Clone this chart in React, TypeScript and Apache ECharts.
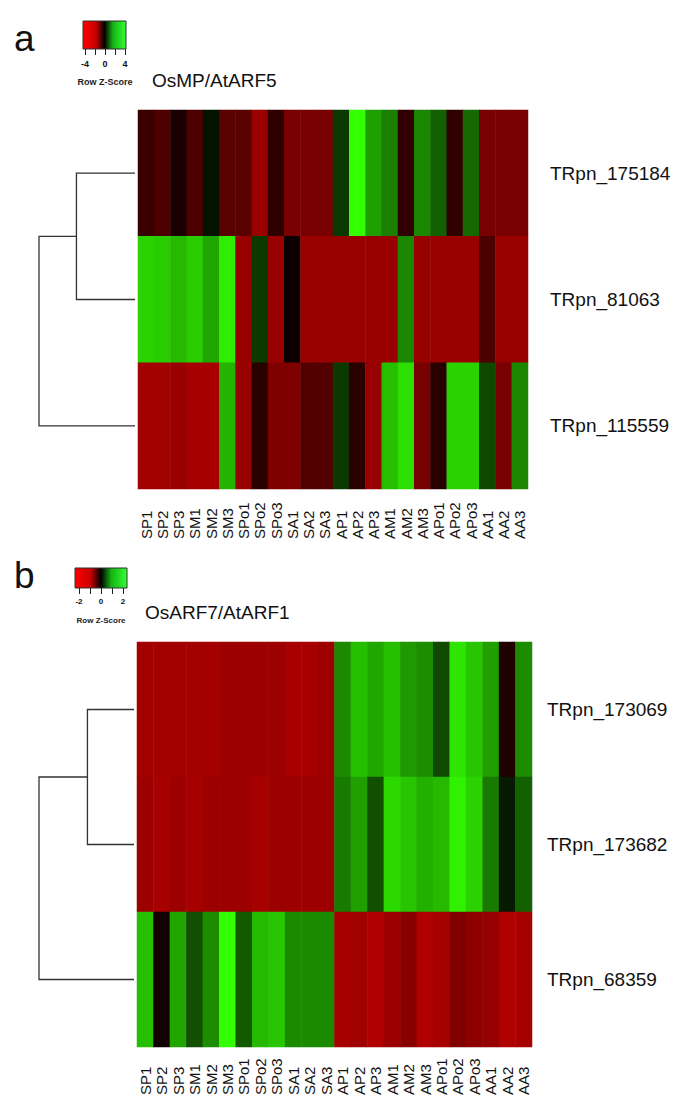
import React, { useEffect, useRef } from "react";
import * as echarts from "echarts";

// ---------- data ----------
const columns = [
  "SP1", "SP2", "SP3", "SM1", "SM2", "SM3", "SPo1", "SPo2", "SPo3", "SA1", "SA2", "SA3",
  "AP1", "AP2", "AP3", "AM1", "AM2", "AM3", "APo1", "APo2", "APo3", "AA1", "AA2", "AA3",
];

// Panel a (OsMP/AtARF5) – row z-scores
const genesA = ["TRpn_175184", "TRpn_81063", "TRpn_115559"];
const zA_175184 = [-0.9, -1.2, -0.4, -1.2, 0.3, -1.4, -1.4, -2.4, -0.75, -1.9, -1.9, -1.9, 0.9, 4.0, 2.5, 2.0, -0.75, 2.1, 1.5, -0.75, 1.65, -1.9, -1.9, -1.9];
const zA_81063 = [3.3, 3.2, 2.9, 3.2, 2.6, 3.7, -2.4, 0.9, -2.4, -0.15, -2.4, -2.4, -2.4, -2.4, -2.4, -2.4, 2.1, -2.4, -2.4, -2.4, -2.4, -1.2, -2.4, -2.4];
const zA_115559 = [-2.55, -2.55, -2.4, -2.6, -2.6, 2.8, -2.4, -0.65, -2.0, -2.0, -1.3, -1.3, 0.9, -0.65, -2.4, 3.0, 3.5, -1.9, -0.65, 3.3, 3.3, 1.15, -1.9, 2.1];

// Panel b (OsARF7/AtARF1) – row z-scores
const genesB = ["TRpn_173069", "TRpn_173682", "TRpn_68359"];
const zB_173069 = [-1.29, -1.29, -1.29, -1.29, -1.29, -1.22, -1.22, -1.22, -1.22, -1.32, -1.32, -1.24, 1.08, 1.5, 1.3, 1.5, 1.2, 1.1, 0.58, 1.8, 1.55, 1.25, -0.25, 1.1];
const zB_173682 = [-1.22, -1.3, -1.22, -1.3, -1.22, -1.22, -1.22, -1.3, -1.22, -1.22, -1.22, -1.22, 0.96, 1.25, 0.63, 1.7, 1.55, 1.37, 1.45, 1.9, 1.65, 0.96, 0.2, 0.75];
const zB_68359 = [1.5, -0.15, 1.3, 0.63, 1.1, 2.0, 0.7, 1.45, 1.55, 1.08, 1.08, 1.08, -1.3, -1.25, -1.38, -1.22, -1.07, -1.38, -1.3, -1.0, -1.1, -1.17, -1.38, -1.3];

// dendrogram merge heights: [merge(row0,row1), merge(cluster,row2)]
const dendroA = [0.61, 1.0];
const dendroB = [0.49, 1.0];

// colour keys
const keyRangeA = [-4, 4];
const keyLabelsA = [-4, 0, 4];
const keyRangeB = [-2, 2];
const keyLabelsB = [-2, 0, 2];

const FONT = "'Liberation Sans', Arial, Helvetica, sans-serif";
const COLORS = ["#ff0000", "#000000", "#33ff00"];

function heat(rows: number[][]) {
  const out: number[][] = [];
  rows.forEach((r, y) => r.forEach((v, x) => out.push([x, y, v])));
  return out;
}

function dendro(h: number[]) {
  return [
    { coords: [[0, 0], [h[0], 0], [h[0], 1], [0, 1]] },
    { coords: [[h[0], 0.5], [h[1], 0.5], [h[1], 2], [0, 2]] },
  ];
}

function keyGradient() {
  return new echarts.graphic.LinearGradient(0, 0, 1, 0, [
    { offset: 0, color: "#ff0000" },
    { offset: 0.3, color: "#c80000" },
    { offset: 0.5, color: "#000000" },
    { offset: 0.7, color: "#14b414" },
    { offset: 1, color: "#33ff33" },
  ]);
}

export default function App() {
  const ref = useRef<HTMLDivElement>(null);
  useEffect(() => {
    if (!ref.current) return;
    const chart = echarts.init(ref.current, undefined, { renderer: "svg" });
    const heatX = (grid: number, margin: number) => ({
      type: "category",
      gridIndex: grid,
      data: columns,
      axisLine: { show: false },
      axisTick: { show: false },
      splitLine: { show: false },
      axisLabel: {
        interval: 0,
        rotate: 90,
        align: "left",
        verticalAlign: "middle",
        margin,
        fontSize: 15,
        color: "#111",
        fontFamily: FONT,
      },
    });
    const heatY = (grid: number, data: string[], margin: number) => ({
      type: "category",
      gridIndex: grid,
      data,
      inverse: true,
      position: "right",
      axisLine: { show: false },
      axisTick: { show: false },
      splitLine: { show: false },
      axisLabel: { fontSize: 19, margin, color: "#111", fontFamily: FONT },
    });
    const dX = (grid: number) => ({ type: "value", gridIndex: grid, min: 0, max: 1, inverse: true, show: false });
    const dY = (grid: number) => ({ type: "value", gridIndex: grid, min: -0.5, max: 2.5, inverse: true, show: false });
    const keyX = (grid: number, range: number[], interval: number, labels: number[], fs: number, margin: number) => ({
      type: "value",
      gridIndex: grid,
      min: range[0],
      max: range[1],
      interval,
      axisLine: { show: false },
      splitLine: { show: false },
      axisTick: { show: true, length: 6, lineStyle: { color: "#222", width: 1 } },
      axisLabel: {
        fontSize: fs,
        margin,
        color: "#111",
        fontWeight: "bold",
        fontFamily: FONT,
        showMinLabel: true,
        showMaxLabel: true,
        formatter: (v: number) => (labels.indexOf(v) >= 0 ? String(v) : ""),
      },
    });
    const option: any = {
      animation: false,
      backgroundColor: "#ffffff",
      textStyle: { fontFamily: FONT },
      grid: [
        { left: 138, top: 110, width: 390, height: 379 },
        { left: 39, top: 110, width: 96, height: 379 },
        { left: 137, top: 642, width: 395, height: 405 },
        { left: 39, top: 642, width: 95, height: 405 },
        { left: 85, top: 21, width: 40, height: 28 },
        { left: 79, top: 568, width: 44, height: 20 },
      ],
      xAxis: [
        heatX(0, 50),
        dX(1),
        heatX(2, 48),
        dX(3),
        keyX(4, keyRangeA, 2, keyLabelsA, 9, 10),
        keyX(5, keyRangeB, 1, keyLabelsB, 8, 9),
      ],
      yAxis: [
        heatY(0, genesA, 22),
        dY(1),
        heatY(2, genesB, 15),
        dY(3),
        { type: "value", gridIndex: 4, show: false, min: 0, max: 1 },
        { type: "value", gridIndex: 5, show: false, min: 0, max: 1 },
      ],
      visualMap: [
        { type: "continuous", show: false, seriesIndex: 0, dimension: 2, min: keyRangeA[0], max: keyRangeA[1], inRange: { color: COLORS } },
        { type: "continuous", show: false, seriesIndex: 2, dimension: 2, min: keyRangeB[0], max: keyRangeB[1], inRange: { color: COLORS } },
      ],
      series: [
        {
          type: "heatmap",
          xAxisIndex: 0,
          yAxisIndex: 0,
          data: heat([zA_175184, zA_81063, zA_115559]),
          itemStyle: { borderWidth: 0 },
          emphasis: { disabled: true },
          progressive: 0,
        },
        {
          type: "lines",
          coordinateSystem: "cartesian2d",
          xAxisIndex: 1,
          yAxisIndex: 1,
          polyline: true,
          silent: true,
          lineStyle: { color: "#333", width: 1.3, opacity: 1 },
          data: dendro(dendroA),
        },
        {
          type: "heatmap",
          xAxisIndex: 2,
          yAxisIndex: 2,
          data: heat([zB_173069, zB_173682, zB_68359]),
          itemStyle: { borderWidth: 0 },
          emphasis: { disabled: true },
          progressive: 0,
        },
        {
          type: "lines",
          coordinateSystem: "cartesian2d",
          xAxisIndex: 3,
          yAxisIndex: 3,
          polyline: true,
          silent: true,
          lineStyle: { color: "#333", width: 1.3, opacity: 1 },
          data: dendro(dendroB),
        },
      ],
      graphic: [
        { type: "text", left: 14, top: 20, style: { text: "a", fontSize: 37, fontFamily: FONT, fill: "#111" } },
        { type: "text", left: 14, top: 557, style: { text: "b", fontSize: 37, fontFamily: FONT, fill: "#111" } },
        { type: "rect", shape: { x: 83, y: 21, width: 43, height: 28 }, style: { fill: keyGradient(), stroke: "#333", lineWidth: 1 } },
        { type: "rect", shape: { x: 75, y: 568, width: 52, height: 20 }, style: { fill: keyGradient(), stroke: "#333", lineWidth: 1 } },
        { type: "text", x: 105, y: 82, style: { text: "Row Z-Score", fontSize: 9, fontWeight: "bold", fontFamily: FONT, fill: "#222", align: "center", verticalAlign: "middle" } },
        { type: "text", x: 101, y: 620, style: { text: "Row Z-Score", fontSize: 8, fontWeight: "bold", fontFamily: FONT, fill: "#222", align: "center", verticalAlign: "middle" } },
        { type: "text", x: 152, y: 80, style: { text: "OsMP/AtARF5", fontSize: 19, fontFamily: FONT, fill: "#111", align: "left", verticalAlign: "middle" } },
        { type: "text", x: 145, y: 612, style: { text: "OsARF7/AtARF1", fontSize: 19, fontFamily: FONT, fill: "#111", align: "left", verticalAlign: "middle" } },
      ],
    };
    chart.setOption(option);
    return () => chart.dispose();
  }, []);
  return (
    <div
      ref={ref}
      style={{ position: "absolute", left: 0, top: 0, width: 692, height: 1114, background: "#fff" }}
    />
  );
}
